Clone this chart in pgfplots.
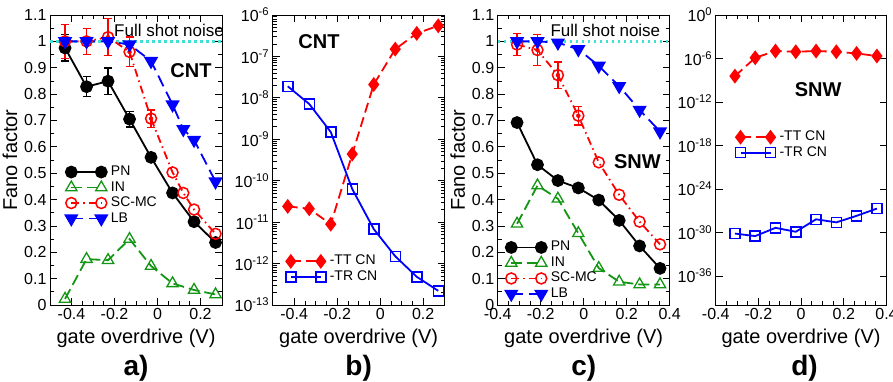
\documentclass[border=0pt]{standalone}
\usepackage{fontspec}
\setmainfont{Liberation Sans}
\usepackage{pgfplots}
\pgfplotsset{compat=1.18}
\definecolor{cred}{RGB}{255,0,0}
\definecolor{cgreen}{RGB}{20,150,20}
\definecolor{cblue}{RGB}{0,0,255}
\definecolor{ccyan}{RGB}{64,224,208}
\pgfplotsset{
  fano/.style={
    scale only axis, width=172pt, height=290pt, anchor=south west,
    axis line style={line width=0.8pt},
    every tick/.style={black, line width=0.8pt},
    major tick length=7pt, minor tick length=4pt,
    tick label style={font=\fontsize{16}{16}\selectfont},
    label style={font=\fontsize{20}{20}\selectfont},
    xlabel style={yshift=-2pt},
    /pgf/number format/assume math mode=true,
    clip=false,
    minor x tick num=3,
    legend style={draw=none, fill=none, inner sep=0pt, anchor=north west,
      font=\fontsize{14}{14}\selectfont, row sep=0.5pt,
      nodes={inner sep=1pt, text height=10pt, text depth=3pt},
      /tikz/every odd column/.style={column sep=3pt}},
    legend cell align=left,
    legend image code/.code={\draw[##1] plot coordinates {(0pt,0pt) (30pt,0pt)};},
    xlabel={gate overdrive (V)},
  },
  lin/.style={ymin=0, ymax=1.1, ytick={0,0.1,0.2,0.3,0.4,0.5,0.6,0.7,0.8,0.9,1,1.1},
    minor y tick num=1, ylabel={Fano factor}},
  pn/.style={black, solid, line width=1.8pt, mark=*, mark size=5.5pt, mark options={solid, fill=black}},
  in/.style={cgreen, line width=1.8pt, dash pattern=on 11pt off 5pt, mark=triangle, mark size=6.5pt, mark options={solid, fill=white, line width=1.3pt}},
  sc/.style={cred, line width=1.8pt, dash pattern=on 8pt off 4pt on 1.5pt off 4pt, mark=o, mark size=5.5pt, mark options={solid, fill=white, line width=1.5pt}},
  lb/.style={cblue, line width=1.8pt, dash pattern=on 12pt off 6pt, mark=triangle*, mark size=6.5pt, mark options={solid, rotate=180, fill=cblue}},
  tt/.style={cred, line width=1.8pt, dash pattern=on 10pt off 5pt, mark=diamond*, mark size=6pt, mark options={solid, fill=cred}},
  tr/.style={cblue, solid, line width=1.8pt, mark=square, mark size=5pt, mark options={solid, fill=white, line width=1.5pt}},
  shot/.style={ccyan, line width=2.5pt, dash pattern=on 2.5pt off 3.5pt, forget plot},
  eb/.style={forget plot, only marks, mark=none, color=#1,
    error bars/.cd, y dir=both, y explicit,
    error bar style={line width=1.3pt, solid, #1},
    error mark options={rotate=90, mark size=4pt, line width=1.3pt, #1}},
}
\begin{document}
\begin{tikzpicture}
\path[use as bounding box] (0pt,0pt) rectangle (893pt,382pt);
% ---------------- a) ----------------
\begin{axis}[fano, lin, at={(50pt,77pt)}, xmin=-0.5, xmax=0.3, xtick={-0.4,-0.2,0,0.2},
  legend style={at={(0.09,0.485)}}]
\addplot[shot] coordinates {(-0.5,1) (0.3,1)};
\addplot[eb=black] coordinates {(-0.43,0.975) +- (0,0.05) (-0.33,0.828) +- (0,0.038) (-0.23,0.849) +- (0,0.05) (-0.13,0.705) +- (0,0.03) (-0.03,0.56) +- (0,0.012)};
\addplot[eb=cred] coordinates {(-0.43,1.0) +- (0,0.065) (-0.33,1.0) +- (0,0.05) (-0.23,1.016) +- (0,0.07) (-0.13,0.96) +- (0,0.056) (-0.03,0.707) +- (0,0.033)};
\addplot[pn] coordinates {(-0.43,0.975) (-0.33,0.828) (-0.23,0.849) (-0.13,0.705) (-0.03,0.56) (0.07,0.425) (0.17,0.316) (0.27,0.237)};
\addlegendentry{PN}
\addplot[in] coordinates {(-0.43,0.023) (-0.33,0.174) (-0.23,0.17) (-0.13,0.25) (-0.03,0.148) (0.07,0.082) (0.17,0.057) (0.27,0.04)};
\addlegendentry{IN}
\addplot[sc] coordinates {(-0.43,1.0) (-0.33,1.0) (-0.23,1.016) (-0.13,0.96) (-0.03,0.707) (0.07,0.503) (0.12,0.425) (0.17,0.362) (0.27,0.27)};
\addlegendentry{SC-MC}
\addplot[lb] coordinates {(-0.43,1.0) (-0.33,1.0) (-0.23,1.0) (-0.13,0.988) (-0.03,0.925) (0.07,0.76) (0.12,0.667) (0.17,0.626) (0.27,0.468)};
\addlegendentry{LB}
\node[anchor=east, font=\fontsize{17}{17}\selectfont, inner sep=0pt] at (rel axis cs:1.012,0.948) {Full shot noise};
\node[font=\fontsize{20}{20}\selectfont\bfseries] at (rel axis cs:0.82,0.807) {CNT};
\node[font=\fontsize{28}{28}\selectfont\bfseries] at (rel axis cs:0.5,-0.217) {a)};
\end{axis}
% ---------------- b) ----------------
\begin{axis}[fano, ymode=log, at={(272.7pt,77pt)}, xmin=-0.5, xmax=0.3, xtick={-0.4,-0.2,0,0.2},
  ymin=1e-13, ymax=1e-6, ytick={1e-13,1e-12,1e-11,1e-10,1e-9,1e-8,1e-7,1e-6},
  yticklabels={10\textsuperscript{-13},10\textsuperscript{-12},10\textsuperscript{-11},10\textsuperscript{-10},10\textsuperscript{-9},10\textsuperscript{-8},10\textsuperscript{-7},10\textsuperscript{-6}},
  legend style={at={(0.075,0.177)}}]
\addplot[tt] coordinates {(-0.43,2.4e-11) (-0.33,2.1e-11) (-0.23,8.9e-12) (-0.13,4.4e-10) (-0.03,2.1e-8) (0.07,1.5e-7) (0.17,3.6e-7) (0.27,5.5e-7)};
\addlegendentry{-TT CN}
\addplot[tr] coordinates {(-0.43,1.9e-8) (-0.33,7.1e-9) (-0.23,1.5e-9) (-0.13,6.3e-11) (-0.03,6.8e-12) (0.07,1.5e-12) (0.17,4.8e-13) (0.27,2.2e-13)};
\addlegendentry{-TR CN}
\node[font=\fontsize{20}{20}\selectfont\bfseries] at (rel axis cs:0.269,0.908) {CNT};
\node[font=\fontsize{28}{28}\selectfont\bfseries] at (rel axis cs:0.5,-0.217) {b)};
\end{axis}
% ---------------- c) ----------------
\begin{axis}[fano, lin, at={(497.7pt,77pt)}, xmin=-0.4, xmax=0.4, xtick={-0.4,-0.2,0,0.2,0.4},
  legend style={at={(0.045,0.225)}}]
\addplot[shot] coordinates {(-0.4,1) (0.4,1)};
\addplot[eb=black] coordinates {(-0.31,0.692) +- (0,0.012)};
\addplot[eb=cred] coordinates {(-0.31,0.988) +- (0,0.041) (-0.215,0.967) +- (0,0.058) (-0.12,0.872) +- (0,0.05) (-0.025,0.718) +- (0,0.035)};
\addplot[pn] coordinates {(-0.31,0.692) (-0.215,0.532) (-0.12,0.472) (-0.025,0.444) (0.07,0.398) (0.165,0.321) (0.26,0.224) (0.355,0.139)};
\addlegendentry{PN}
\addplot[in] coordinates {(-0.31,0.308) (-0.215,0.453) (-0.12,0.403) (-0.025,0.272) (0.07,0.14) (0.165,0.088) (0.26,0.078) (0.355,0.078)};
\addlegendentry{IN}
\addplot[sc] coordinates {(-0.31,0.988) (-0.215,0.967) (-0.12,0.872) (-0.025,0.718) (0.07,0.541) (0.165,0.418) (0.26,0.316) (0.355,0.23)};
\addlegendentry{SC-MC}
\addplot[lb] coordinates {(-0.31,1.0) (-0.215,1.0) (-0.12,0.995) (-0.025,0.97) (0.07,0.907) (0.165,0.83) (0.26,0.74) (0.355,0.658)};
\addlegendentry{LB}
\node[anchor=east, font=\fontsize{17}{17}\selectfont, inner sep=0pt] at (rel axis cs:0.946,0.948) {Full shot noise};
\node[font=\fontsize{20}{20}\selectfont\bfseries] at (rel axis cs:0.812,0.494) {SNW};
\node[font=\fontsize{28}{28}\selectfont\bfseries] at (rel axis cs:0.5,-0.217) {c)};
\end{axis}
% ---------------- d) ----------------
\begin{axis}[fano, ymode=log, at={(715.7pt,77pt)}, width=170.8pt, xmin=-0.4, xmax=0.4, xtick={-0.4,-0.2,0,0.2,0.4},
  ymin=1e-40, ymax=1, ytick={1e-36,1e-30,1e-24,1e-18,1e-12,1e-6,1},
  yminorticks=false,
  yticklabels={10\textsuperscript{-36},10\textsuperscript{-30},10\textsuperscript{-24},10\textsuperscript{-18},10\textsuperscript{-12},10\textsuperscript{-6},10\textsuperscript{0}},
  legend style={at={(0.115,0.605)}}]
\addplot[tt] coordinates {(-0.31,3.7e-9) (-0.215,1.26e-6) (-0.12,1.07e-5) (-0.025,8.5e-6) (0.07,1.07e-5) (0.165,8.5e-6) (0.26,5e-6) (0.355,2.2e-6)};
\addlegendentry{-TT CN}
\addplot[tr] coordinates {(-0.31,7.1e-31) (-0.215,3.2e-31) (-0.12,4.4e-30) (-0.025,1.26e-30) (0.07,6.6e-29) (0.165,2.5e-29) (0.26,2e-28) (0.355,2e-27)};
\addlegendentry{-TR CN}
\node[font=\fontsize{20}{20}\selectfont\bfseries] at (rel axis cs:0.6,0.741) {SNW};
\node[font=\fontsize{28}{28}\selectfont\bfseries] at (rel axis cs:0.52,-0.217) {d)};
\end{axis}
\end{tikzpicture}
\end{document}
